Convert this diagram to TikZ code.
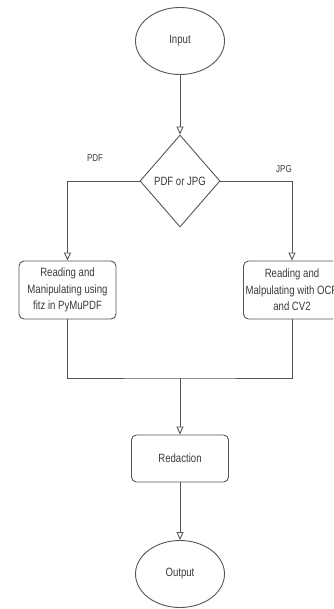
\documentclass[tikz,border=0pt]{standalone}
\usepackage{fontspec}
\setmainfont[FakeStretch=0.8]{Liberation Sans}
\usetikzlibrary{arrows.meta,shapes.geometric}
\definecolor{linec}{HTML}{555555}
\definecolor{textc}{HTML}{3A3A3A}
\begin{document}
\begin{tikzpicture}[x=1pt,y=-1pt,
  every node/.style={text=textc,font=\fontsize{12}{16.7}\selectfont},
  conn/.style={draw=linec,line width=0.9pt,-{Triangle[open,length=8pt,width=7pt]}},
  plain/.style={draw=linec,line width=0.9pt},
  term/.style={ellipse,draw=linec,line width=0.9pt,minimum width=89pt,minimum height=67pt,inner sep=0pt},
  procbox/.style={rectangle,rounded corners=5pt,draw=linec,line width=0.9pt,minimum width=97pt,inner sep=0pt,align=center},
  decide/.style={diamond,draw=linec,line width=0.9pt,minimum width=80pt,minimum height=92pt,inner sep=0pt,aspect=0.87},
  lbl/.style={font=\fontsize{10}{12}\selectfont}]
\useasboundingbox (0,0) rectangle (333,609);
\clip (0,0) rectangle (333,609);
\node[term] (input) at (180,41) {Input};
\node[decide] (dec) at (180,181) {PDF or JPG};
\node[procbox,minimum height=58pt] (pdfbox) at (67.5,290) {Reading and\\Manipulating using\\fitz in PyMuPDF};
\node[procbox,minimum height=58pt] (jpgbox) at (292,290) {Reading and\\Malpulating with OCR\\and CV2};
\node[procbox,minimum height=47pt] (red) at (180,458.5) {Redaction};
\node[term] (output) at (180,574) {Output};
\node[lbl] (pdflbl) at (95,158) {PDF};
\node[lbl] (jpglbl) at (284,169) {JPG};
\coordinate (join) at (180,378);
\draw[conn] (input) -- (dec);
\draw[conn] (dec.west) -| (pdfbox.north);
\draw[conn] (dec.east) -| (jpgbox.north);
\draw[plain] (pdfbox.south) |- (join) -| (jpgbox.south);
\draw[conn] (join) -- (red);
\draw[conn] (red) -- (output);
\end{tikzpicture}
\end{document}
